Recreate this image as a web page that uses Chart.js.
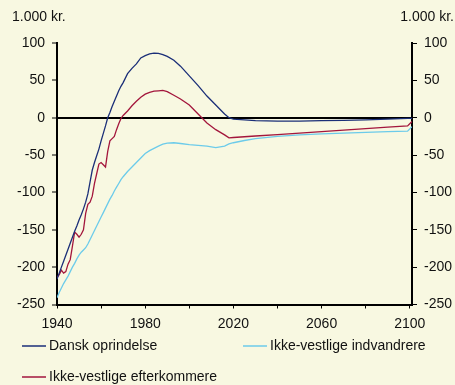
<!DOCTYPE html>
<html>
<head>
<meta charset="utf-8">
<script src="https://cdn.jsdelivr.net/npm/chart.js@4/dist/chart.umd.min.js"></script>
<style>
  html, body { margin: 0; padding: 0; background: #F8F8E1; }
  #wrap { width: 455px; height: 385px; position: relative; }
</style>
</head>
<body>
<div id="wrap"><canvas id="c" width="455" height="385"></canvas></div>
<script>
// Years of the projection
const years = [
  1940, 1941, 1942, 1943, 1944, 1945, 1946, 1947, 1948, 1949,
  1950, 1951, 1952, 1953, 1954, 1955, 1956, 1957, 1958, 1959,
  1960, 1961, 1962, 1963, 1964, 1965, 1966, 1967, 1968, 1969,
  1970, 1972, 1974, 1976, 1978, 1980, 1982, 1984, 1986, 1988,
  1990, 1993, 1996, 2000, 2004, 2008, 2012, 2016, 2018, 2020,
  2025, 2030, 2040, 2050, 2060, 2070, 2080, 2090, 2099, 2101
];

// Net contribution, 1.000 kr.
const danskOprindelse = [
  -216, -208, -200, -192, -184, -176, -168, -160, -152, -145,
  -137, -130, -122, -113, -102, -86, -70, -60, -51, -42,
  -31, -21, -11, 0, 7, 15, 22, 29, 36, 42,
  47, 59, 66, 72, 80, 83, 85.5, 86.4, 86, 84.5,
  82, 77, 69, 56, 43, 29, 17, 5, 0, -2,
  -3, -4, -4.5, -4.5, -4, -3.5, -3, -2, -1, -1
];

const efterkommere = [
  -214, -210, -204, -208, -206, -196, -190, -172, -153, -156,
  -160, -156, -150, -128, -116, -113, -105, -88, -75, -62,
  -60, -63, -66, -45, -31, -28, -25, -16, -8, -1,
  3, 9, 16, 22, 27.5, 31.5, 34, 35.6, 36, 36.5,
  35, 30, 25, 17, 5, -7, -16, -23, -27, -26.5,
  -25.5, -24.5, -22.5, -20.5, -18.5, -16.5, -14.5, -12.5, -11, -5
];

const indvandrere = [
  -241, -234, -228, -222, -217, -212, -206, -200, -195, -189,
  -184, -180, -177, -174, -169, -163, -157, -151, -145, -139,
  -133, -127, -121, -115, -109, -104, -98, -93, -88, -83,
  -79, -72, -66, -60, -54, -48, -44, -41, -38, -35.5,
  -34, -33.5, -34.5, -36, -37, -38, -40, -38, -35, -33.5,
  -30.5, -28, -25, -23, -21.5, -20.5, -19.5, -18.5, -18, -12
];

const seriesNames = ['Dansk oprindelse', 'Ikke-vestlige efterkommere', 'Ikke-vestlige indvandrere'];
const unitLabel = '1.000 kr.';

const FONT = '"Liberation Sans", Arial, sans-serif';
const toPoints = vals => years.map((y, i) => ({ x: y, y: vals[i] }));

// Background fill, unit captions and the legend block under the axis
const decorations = {
  id: 'decorations',
  beforeDraw(chart) {
    const ctx = chart.ctx;
    ctx.save();
    ctx.fillStyle = '#F8F8E1';
    ctx.fillRect(0, 0, chart.width, chart.height);
    ctx.restore();
  },
  afterDraw(chart) {
    const ctx = chart.ctx;
    ctx.save();
    ctx.fillStyle = '#111';
    ctx.font = '14px ' + FONT;
    ctx.textBaseline = 'middle';
    ctx.textAlign = 'left';
    ctx.fillText(unitLabel, 12, 17);
    ctx.textAlign = 'right';
    ctx.fillText(unitLabel, 454, 17);

    const items = [
      { ds: 0, x: 22, y: 346 },
      { ds: 2, x: 243, y: 346 },
      { ds: 1, x: 22, y: 377 }
    ];
    ctx.textAlign = 'left';
    items.forEach(it => {
      const d = chart.data.datasets[it.ds];
      ctx.strokeStyle = d.borderColor;
      ctx.lineWidth = 1.5;
      ctx.beginPath();
      ctx.moveTo(it.x, it.y);
      ctx.lineTo(it.x + 24, it.y);
      ctx.stroke();
      ctx.fillStyle = '#111';
      ctx.fillText(d.label, it.x + 27, it.y);
    });
    ctx.restore();
  }
};

new Chart(document.getElementById('c'), {
  type: 'line',
  data: {
    datasets: [
      { label: seriesNames[0], data: toPoints(danskOprindelse), borderColor: '#1B2F78' },
      { label: seriesNames[1], data: toPoints(efterkommere), borderColor: '#A3163C' },
      { label: seriesNames[2], data: toPoints(indvandrere), borderColor: '#6CCBEA' }
    ].map(d => Object.assign(d, { borderWidth: 1.3, pointRadius: 0, tension: 0, fill: false }))
  },
  options: {
    responsive: false,
    animation: false,
    devicePixelRatio: 1,
    layout: { padding: { top: 43, left: 0, right: 0, bottom: 0 } },
    plugins: { legend: { display: false }, tooltip: { enabled: false } },
    scales: {
      x: {
        type: 'linear',
        min: 1940,
        max: 2101,
        afterFit(s) { s.height = 80.5; },
        border: { color: '#000', width: 2 },
        grid: { drawOnChartArea: false, tickLength: 4, tickColor: '#000', tickWidth: 1 },
        ticks: {
          stepSize: 20,
          includeBounds: false,
          autoSkip: false,
          maxRotation: 0,
          padding: 7,
          color: '#111',
          font: { family: FONT, size: 14 },
          callback: v => ((v - 1940) % 40 === 0 ? String(v) : '')
        }
      },
      y: {
        position: 'left',
        min: -250,
        max: 100,
        afterFit(s) { s.width = 57; },
        border: { color: '#000', width: 2 },
        grid: {
          color: c => (c.tick && c.tick.value === 0 ? '#000' : 'rgba(0,0,0,0)'),
          lineWidth: c => (c.tick && c.tick.value === 0 ? 2 : 0),
          tickColor: '#000',
          tickWidth: 1,
          tickLength: 5
        },
        ticks: { stepSize: 50, padding: 7, color: '#111', font: { family: FONT, size: 14 } }
      },
      y2: {
        position: 'right',
        min: -250,
        max: 100,
        afterFit(s) { s.width = 43; },
        border: { color: '#000', width: 2 },
        grid: { drawOnChartArea: false, tickColor: '#000', tickWidth: 1, tickLength: 5 },
        ticks: { stepSize: 50, padding: 7, color: '#111', font: { family: FONT, size: 14 } }
      }
    }
  },
  plugins: [decorations]
});
</script>
</body>
</html>
